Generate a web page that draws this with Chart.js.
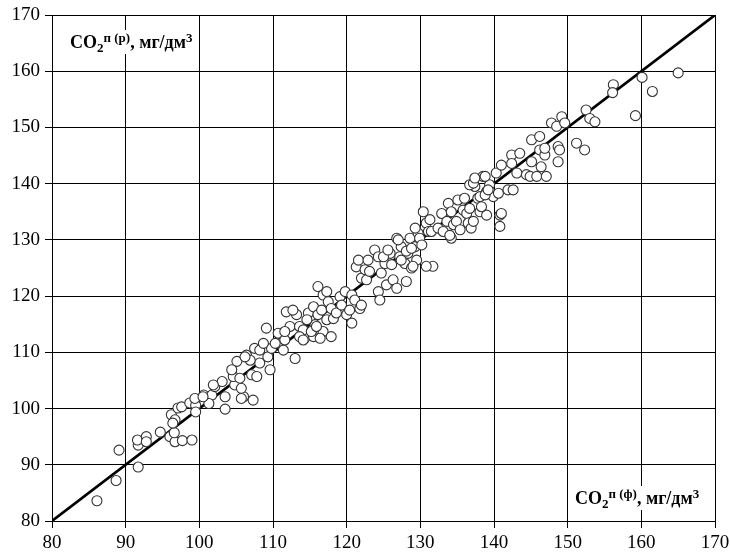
<!DOCTYPE html>
<html>
<head>
<meta charset="utf-8">
<script src="https://cdn.jsdelivr.net/npm/chart.js@4.4.1/dist/chart.umd.min.js"></script>
<style>
  html, body { margin: 0; padding: 0; background: #fff; }
  #wrap { position: relative; width: 730px; height: 556px; }
  canvas { position: absolute; left: 0; top: 0; }
  .lbl { position: absolute; font-family: "Liberation Serif", "Times New Roman", serif; font-weight: bold; font-size: 18px; line-height: 18px; color: #000; background: #fff; padding: 3px 3px; white-space: nowrap; }
  .lbl sup { font-size: 13px; vertical-align: 6px; line-height: 0; }
  .lbl sub { font-size: 13px; vertical-align: -4px; line-height: 0; }
</style>
</head>
<body>
<div id="wrap">
  <canvas id="c" width="730" height="556"></canvas>
  <div class="lbl" id="ylab" style="left:67px; top:30px;">CO<sub>2</sub><sup>п (р)</sup>, мг/дм<sup>3</sup></div>
  <div class="lbl" id="xlab" style="left:572px; top:486px;">CO<sub>2</sub><sup>п (ф)</sup>, мг/дм<sup>3</sup></div>
</div>
<script>
// Measured (actual) CO2 values, mg/dm3
const measured = [
  86.1, 88.7, 89.1, 91.7, 91.7, 91.6, 92.8, 92.8, 94.7, 96.0, 96.7, 97.7, 99.0, 96.6, 96.2, 96.7, 96.4, 97.1, 97.6, 98.7, 99.5, 99.5, 100.6, 101.7, 101.3, 102.1, 103.1, 103.5, 103.5, 104.8, 106.0,
  99.4, 100.5, 101.9, 104.6, 105.7, 105.7, 107.3, 105.1, 106.4, 107.5, 108.2, 107.1, 107.8, 108.2, 109.3, 109.6, 109.8, 109.1, 110.7, 110.9, 111.6, 111.8, 112.3, 113.2, 113.6, 114.3, 114.8, 115.5, 115.7, 116.1, 116.8, 117.3, 113.0, 111.4, 104.4, 106.9, 106.2, 105.5, 108.7, 110.3, 111.6, 114.1, 115.5,
  112.7, 113.6, 114.1, 114.6, 115.2, 115.9, 116.4, 116.6, 116.1, 116.8, 117.3, 117.5, 117.9, 117.9, 118.2, 118.6, 119.1, 119.3, 119.8, 120.0, 120.4, 120.7, 120.7, 121.1, 121.8, 122.0, 121.3, 121.6, 122.0, 122.5, 122.7, 122.9, 123.1, 123.8, 124.3, 124.3, 124.5, 124.7, 125.2, 125.4, 125.9, 126.1, 126.3, 126.8, 126.8, 127.2, 127.4, 127.9, 128.1, 128.3, 128.6, 128.8, 129.3, 129.7, 129.5,
  125.0, 125.6, 127.0, 127.4, 128.1, 128.8, 129.3, 129.0, 129.9, 130.2, 130.4, 130.8, 131.1, 131.3, 131.7, 130.8, 131.5, 132.4, 132.9, 133.1, 133.6, 133.8, 134.2, 134.2, 134.5, 134.9, 135.1, 135.4, 135.8, 136.0, 136.3, 136.5, 136.7, 136.9, 137.2, 137.4, 137.8, 138.1, 138.5, 139.0, 139.0, 139.4, 139.9, 140.3, 140.6, 140.8, 140.8, 141.0, 141.9, 136.7, 134.0,
  137.2, 137.4, 138.1, 138.3, 138.8, 138.8, 139.2, 141.0, 142.4, 142.4, 142.6, 143.1, 143.5, 144.4, 144.9, 145.1, 145.1, 145.8, 146.2, 146.2, 146.4, 146.9, 146.9, 147.1, 147.8, 148.5, 148.7, 148.7, 148.9, 149.2, 149.6, 151.2, 152.3, 152.5, 153.0, 153.7,
  156.2, 156.1, 160.1, 161.5, 165.0, 159.2
];
// Calculated CO2 values, mg/dm3
const calculated = [
  83.6, 87.2, 92.6, 89.6, 93.5, 94.4, 95.0, 94.1, 95.8, 95.0, 94.1, 94.3, 94.4, 95.7, 98.9, 98.0, 97.4, 100.1, 100.3, 101.0, 100.6, 99.4, 102.4, 102.4, 100.9, 103.9, 104.8, 99.9, 102.1, 104.2, 102.1,
  101.8, 102.1, 104.2, 105.7, 103.6, 101.8, 101.5, 108.4, 109.5, 110.7, 110.4, 106.0, 105.7, 108.1, 109.2, 106.9, 110.7, 114.3, 113.4, 111.6, 112.2, 117.2, 114.6, 116.7, 114.6, 112.5, 117.0, 118.1, 114.9, 116.7, 113.7, 115.8, 108.9, 110.4, 106.9, 108.6, 109.2, 105.4, 111.6, 111.6, 113.7, 114.0, 112.8,
  117.5, 112.8, 112.2, 115.8, 113.7, 114.6, 112.5, 117.5, 121.7, 120.2, 120.8, 119.0, 117.8, 112.8, 116.0, 117.0, 119.9, 118.4, 120.8, 116.7, 117.5, 115.2, 120.2, 119.3, 117.8, 118.4, 125.2, 126.4, 123.2, 124.7, 122.9, 126.4, 124.4, 128.2, 127.0, 120.8, 119.3, 124.1, 125.8, 122.0, 127.6, 125.6, 122.9, 130.3, 121.4, 127.0, 128.8, 125.8, 122.6, 127.6, 130.3, 125.0, 128.8, 131.2, 126.4,
  127.0, 128.2, 130.0, 126.4, 128.0, 128.5, 132.1, 125.3, 130.3, 129.1, 135.0, 133.0, 131.5, 133.6, 125.3, 125.3, 131.5, 132.1, 134.7, 131.5, 133.3, 136.5, 135.0, 130.3, 132.7, 133.3, 137.1, 131.8, 135.3, 137.4, 134.7, 133.0, 135.6, 132.1, 133.3, 139.5, 137.4, 135.0, 141.3, 138.6, 134.4, 139.8, 137.7, 141.9, 138.3, 134.4, 132.4, 143.3, 138.9, 139.8, 130.8,
  140.1, 141.0, 137.7, 135.9, 138.0, 141.3, 138.9, 134.7, 145.1, 143.6, 138.9, 141.9, 145.4, 141.6, 141.3, 147.8, 143.9, 141.3, 148.4, 146.0, 143.0, 145.1, 146.3, 141.3, 150.8, 150.2, 146.6, 143.9, 146.0, 151.9, 150.8, 147.2, 146.0, 153.1, 151.6, 151.0,
  157.6, 156.2, 158.9, 156.4, 159.7, 152.1
];
// 1:1 reference line
const lineX = [80, 170];
const lineY = [80, 170];
// Axis range and tick step
const axisMin = 80, axisMax = 170, axisStep = 10;

const points = measured.map((v, i) => ({ x: v, y: calculated[i] }));
const linePts = lineX.map((v, i) => ({ x: v, y: lineY[i] }));

const tickFont = { family: '"Liberation Serif", "Times New Roman", serif', size: 19 };

function zeroPad(s) { s.paddingLeft = 0; s.paddingRight = 0; s.paddingTop = 0; s.paddingBottom = 0; }

new Chart(document.getElementById('c'), {
  type: 'scatter',
  data: {
    datasets: [
      {
        type: 'scatter',
        data: points,
        order: 0,
        pointRadius: 5,
        pointHoverRadius: 5,
        pointBackgroundColor: '#ffffff',
        pointBorderColor: '#333333',
        pointBorderWidth: 1.1
      },
      {
        type: 'line',
        data: linePts,
        order: 1,
        borderColor: '#000000',
        borderWidth: 2.6,
        pointRadius: 0,
        fill: false
      }
    ]
  },
  options: {
    responsive: false,
    animation: false,
    events: [],
    layout: { autoPadding: false, padding: { top: 15, right: 15, left: 0, bottom: 0 } },
    plugins: { legend: { display: false }, tooltip: { enabled: false } },
    scales: {
      x: {
        type: 'linear', min: axisMin, max: axisMax,
        afterFit: s => { s.height = 35; zeroPad(s); },
        ticks: { stepSize: axisStep, color: '#000', font: tickFont, padding: 4, maxRotation: 0 },
        grid: { color: '#000', lineWidth: 1, tickLength: 7 },
        border: { color: '#000', width: 1 }
      },
      y: {
        type: 'linear', min: axisMin, max: axisMax,
        afterFit: s => { s.width = 52; zeroPad(s); },
        ticks: { stepSize: axisStep, color: '#000', font: tickFont, padding: 5 },
        grid: { color: '#000', lineWidth: 1, tickLength: 7 },
        border: { color: '#000', width: 1 }
      }
    }
  }
});
</script>
</body>
</html>
